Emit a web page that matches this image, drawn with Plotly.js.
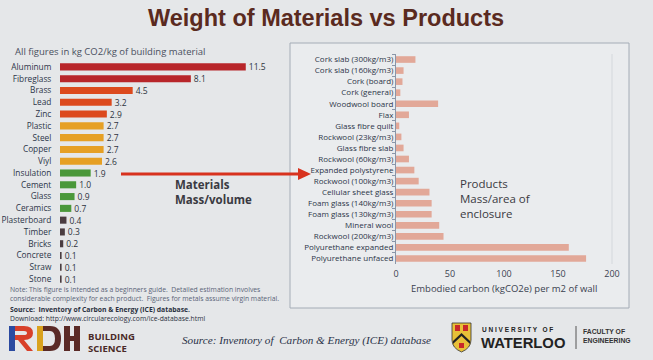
<!DOCTYPE html>
<html><head><meta charset="utf-8">
<script src="https://cdn.plot.ly/plotly-3.0.1.min.js"></script>
<style>html,body{margin:0;padding:0;background:#e5e7e9;}#chart{width:653px;height:360px;}</style>
</head><body><div id="chart"></div>
<script>
// Left chart: materials (kg CO2 / kg)
const materials = ["Aluminum","Fibreglass","Brass","Lead","Zinc","Plastic","Steel","Copper","Viyl","Insulation","Cement","Glass","Ceramics","Plasterboard","Timber","Bricks","Concrete","Straw","Stone"];
const materialValues = [11.5,8.1,4.5,3.2,2.9,2.7,2.7,2.7,2.6,1.9,1.0,0.9,0.7,0.4,0.3,0.2,0.1,0.1,0.1];
const materialColors = ["#b8262a","#b8262a","#dc4a1e","#dc4a1e","#dc4a1e","#e6a024","#e6a024","#e6a024","#e6a024","#4a983a","#4a983a","#4a983a","#4a983a","#4a3c40","#4a3c40","#4a3c40","#4a3c40","#4a3c40","#4a3c40"];
// Right chart: products (kgCO2e per m2 of wall)
const products = ["Cork slab (300kg/m3)","Cork slab (160kg/m3)","Cork (board)","Cork (general)","Woodwool board","Flax","Glass fibre quilt","Rockwool (23kg/m3)","Glass fibre slab","Rockwool (60kg/m3)","Expanded polystyrene","Rockwool (100kg/m3)","Cellular sheet glass","Foam glass (140kg/m3)","Foam glass (130kg/m3)","Mineral wool","Rockwool (200kg/m3)","Polyurethane expanded","Polyurethane unfaced"];
const productValues = [18,7,6,4,39,12,3,5,7,12,17,21,31,33,33,40,44,160,176];
const productTicks = [0,50,100,150,200];

const W = 653, H = 360;
const px = x => x / W, py = y => 1 - y / H;

const traces = [
  {type:"bar", orientation:"h", x:materialValues, y:materials, xaxis:"x", yaxis:"y",
   marker:{color:materialColors}, text:materialValues.map(v=>v.toFixed(1)), textposition:"outside",
   constraintext:"none", cliponaxis:false,
   textfont:{family:"Open Sans, sans-serif", size:8.5, color:"#2e3440"}, hoverinfo:"none"},
  {type:"bar", orientation:"h", x:productValues, y:products, xaxis:"x2", yaxis:"y2",
   marker:{color:"#e2a898"}, hoverinfo:"none"}
];

function ann(x, y, text, font, xanchor, extra) {
  return Object.assign({xref:"paper", yref:"paper", x:px(x), y:py(y), text:text, showarrow:false,
    xanchor:xanchor || "left", yanchor:"middle", align:"left", font:font}, extra || {});
}

const layout = {
  width:W, height:H, margin:{l:0,r:0,t:0,b:0},
  paper_bgcolor:"#e5e7e9", plot_bgcolor:"rgba(0,0,0,0)",
  showlegend:false, bargap:0.4,
  font:{family:"Open Sans, sans-serif", color:"#2e3440"},
  xaxis:{domain:[px(60), px(270)], range:[0,13], visible:false, anchor:"y"},
  yaxis:{domain:[py(285), py(61)], autorange:"reversed", type:"category", anchor:"x",
         showgrid:false, zeroline:false, showline:false, ticks:"outside", ticklen:6, tickcolor:"rgba(0,0,0,0)",
         tickfont:{size:8.3, color:"#2c3548"}},
  xaxis2:{domain:[px(396), px(612)], range:[0,200], anchor:"y2", tickvals:productTicks,
          showgrid:false, zeroline:false, showline:false, ticks:"outside", ticklen:1, tickcolor:"rgba(0,0,0,0)",
          tickfont:{size:9, color:"#3a4250"}},
  yaxis2:{domain:[py(264), py(54)], autorange:"reversed", type:"category", anchor:"x2",
          showgrid:false, zeroline:false, showline:true, linecolor:"#8a96a8", linewidth:1,
          ticks:"outside", ticklen:3, tickcolor:"#8a96a8", tickson:"boundaries",
          tickfont:{size:8, color:"#2c3548"}},
  shapes:[
    {type:"rect", xref:"paper", yref:"paper", x0:px(290), x1:px(629), y0:py(308), y1:py(43),
     line:{color:"#a4acb6", width:1}, fillcolor:"#eaecee", layer:"below"},
    {type:"line", xref:"paper", yref:"paper", x0:px(612), x1:px(612), y0:py(264), y1:py(54),
     line:{color:"#d4d8dc", width:1}, layer:"below"},
    {type:"line", xref:"paper", yref:"paper", x0:px(121), x1:px(300), y0:py(174), y1:py(174),
     line:{color:"#d8321e", width:3}},
    {type:"path", xref:"paper", yref:"paper",
     path:`M ${px(298)} ${py(168)} L ${px(311)} ${py(174)} L ${px(298)} ${py(180)} Z`,
     fillcolor:"#d8321e", line:{width:0}},
    // RDH logo pieces
    {type:"rect", xref:"paper", yref:"paper", x0:px(9), x1:px(15), y0:py(351), y1:py(326), fillcolor:"#2b4aa0", line:{width:0}},
    {type:"path", xref:"paper", yref:"paper", path:`M ${px(15)} ${py(326)} L ${px(24)} ${py(326)} Q ${px(33)} ${py(326)} ${px(33)} ${py(333)} Q ${px(33)} ${py(340)} ${px(24)} ${py(340)} L ${px(33)} ${py(351)} L ${px(27)} ${py(351)} L ${px(18)} ${py(340)} L ${px(15)} ${py(340)} L ${px(15)} ${py(335)} L ${px(24)} ${py(335)} Q ${px(27)} ${py(335)} ${px(27)} ${py(333)} Q ${px(27)} ${py(331)} ${px(24)} ${py(331)} L ${px(15)} ${py(331)} Z`, fillcolor:"#d8402a", line:{width:0}},
    {type:"rect", xref:"paper", yref:"paper", x0:px(37), x1:px(43), y0:py(351), y1:py(326), fillcolor:"#d9a21e", line:{width:0}},
    {type:"path", xref:"paper", yref:"paper", path:`M ${px(43)} ${py(326)} L ${px(50)} ${py(326)} Q ${px(61)} ${py(326)} ${px(61)} ${py(338.5)} Q ${px(61)} ${py(351)} ${px(50)} ${py(351)} L ${px(43)} ${py(351)} L ${px(43)} ${py(346)} L ${px(50)} ${py(346)} Q ${px(55)} ${py(346)} ${px(55)} ${py(338.5)} Q ${px(55)} ${py(331)} ${px(50)} ${py(331)} L ${px(43)} ${py(331)} Z`, fillcolor:"#5a2a26", line:{width:0}},
    {type:"rect", xref:"paper", yref:"paper", x0:px(64), x1:px(70), y0:py(351), y1:py(326), fillcolor:"#5a2a26", line:{width:0}},
    {type:"rect", xref:"paper", yref:"paper", x0:px(74), x1:px(80), y0:py(351), y1:py(326), fillcolor:"#5a2a26", line:{width:0}},
    {type:"rect", xref:"paper", yref:"paper", x0:px(70), x1:px(74), y0:py(341), y1:py(336), fillcolor:"#5a2a26", line:{width:0}},
    // UW shield
    {type:"path", xref:"paper", yref:"paper", path:`M ${px(452)} ${py(323)} L ${px(471)} ${py(323)} L ${px(471)} ${py(340)} Q ${px(471)} ${py(348)} ${px(461.5)} ${py(352)} Q ${px(452)} ${py(348)} ${px(452)} ${py(340)} Z`, fillcolor:"#e8c038", line:{color:"#333", width:0.8}},
    {type:"path", xref:"paper", yref:"paper", path:`M ${px(453)} ${py(341)} L ${px(461.5)} ${py(333)} L ${px(470)} ${py(341)} L ${px(470)} ${py(344)} L ${px(461.5)} ${py(336)} L ${px(453)} ${py(344)} Z`, fillcolor:"#222", line:{width:0}},
    {type:"rect", xref:"paper", yref:"paper", x0:px(455), x1:px(460), y0:py(331), y1:py(325), fillcolor:"#c8282a", line:{width:0}},
    {type:"rect", xref:"paper", yref:"paper", x0:px(463), x1:px(468), y0:py(331), y1:py(325), fillcolor:"#c8282a", line:{width:0}},
    {type:"rect", xref:"paper", yref:"paper", x0:px(459), x1:px(464), y0:py(348), y1:py(343), fillcolor:"#c8282a", line:{width:0}},
    {type:"line", xref:"paper", yref:"paper", x0:px(576), x1:px(576), y0:py(349), y1:py(326), line:{color:"#555", width:1}}
  ],
  annotations:[
    ann(326, 18, "<b>Weight of Materials vs Products</b>", {family:"Liberation Sans, Arial, sans-serif", size:23.5, color:"#5a2a20"}, "center"),
    ann(13, 52, "All figures in kg CO2/kg of building material", {size:9.5, color:"#4a5060"}),
    ann(173, 192, "<b>Materials<br>Mass/volume</b>", {size:11.5, color:"#3a3a42"}),
    ann(458, 198, "Products<br>Mass/area of<br>enclosure", {size:11.5, color:"#3a3a42"}),
    ann(504, 288, "Embodied carbon (kgCO2e) per m2 of wall", {size:9.5, color:"#3a4250"}, "center"),
    ann(8, 293.5, "Note: This figure is intended as a beginners guide.  Detailed estimation involves<br>considerable complexity for each product.  Figures for metals assume virgin material.", {size:6.8, color:"#5a6478"}),
    ann(8, 314, "<b>Source:  Inventory of Carbon & Energy (ICE) database.</b><br>Download: http://www.circularecology.com/ice-database.html", {size:6.8, color:"#2a3040"}),
    ann(86, 342, "<b>BUILDING<br>SCIENCE</b>", {size:9.5, color:"#4a2a28"}),
    ann(180, 340, "<i>Source: Inventory of  Carbon &amp; Energy (ICE) database</i>", {family:"Liberation Serif, Times New Roman, serif", size:11.2, color:"#2a3248"}),
    ann(480, 329, "<b>U N I V E R S I T Y   O F</b>", {family:"Liberation Sans, Arial, sans-serif", size:6.5, color:"#222"}),
    ann(479, 343, "<b>WATERLOO</b>", {family:"Liberation Sans, Arial, sans-serif", size:14.8, color:"#222"}),
    ann(581, 336, "<b>FACULTY OF<br>ENGINEERING</b>", {family:"Liberation Sans, Arial, sans-serif", size:6.8, color:"#333"})
  ]
};
Plotly.newPlot("chart", traces, layout, {displayModeBar:false, staticPlot:true});
</script></body></html>
